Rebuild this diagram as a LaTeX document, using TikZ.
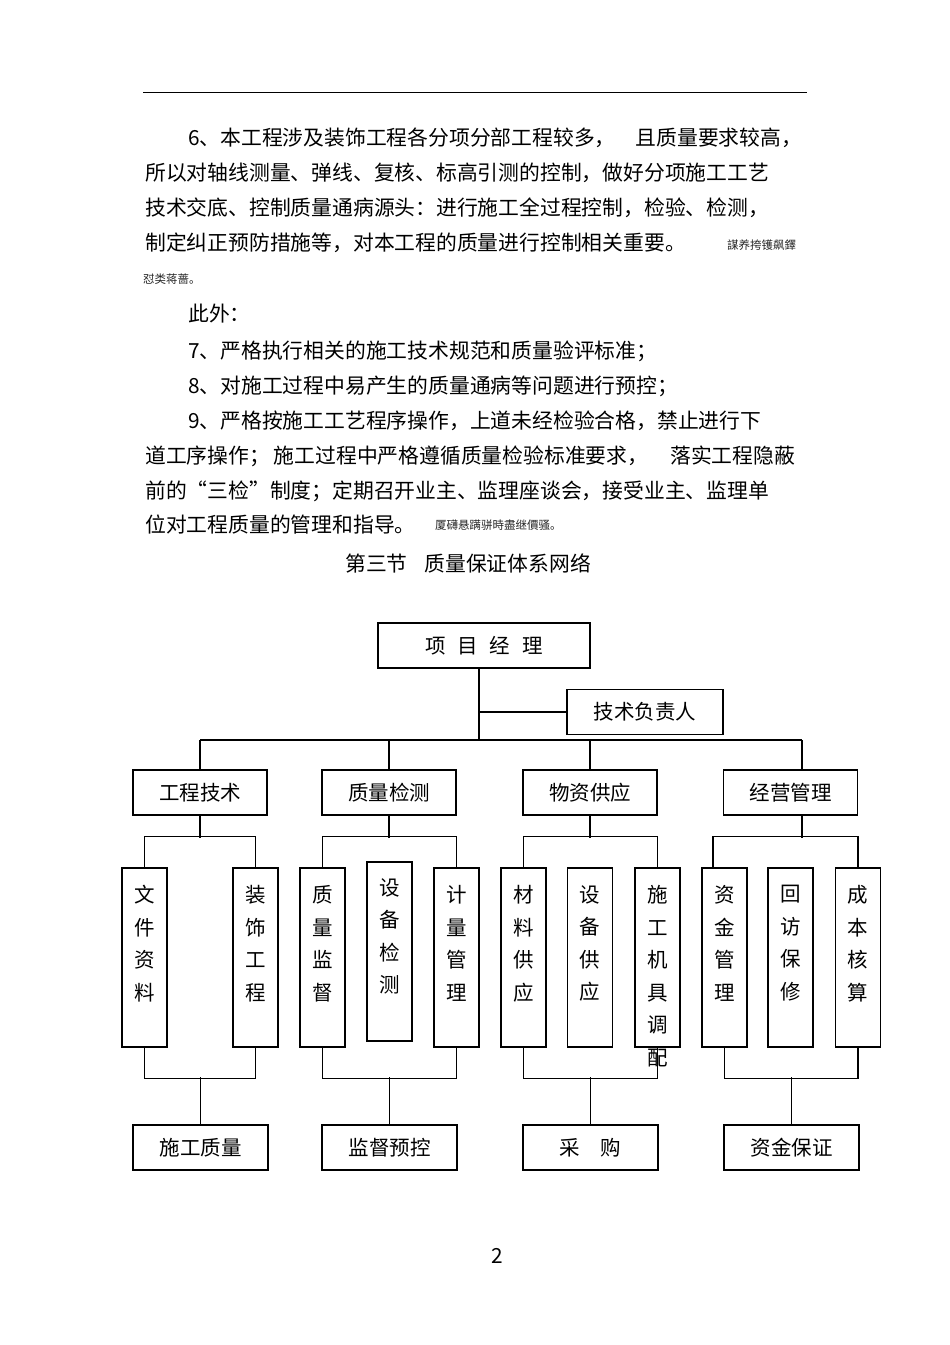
\documentclass[tikz,border=0pt]{standalone}
\usepackage{fontspec}
\setmainfont{Noto Sans CJK SC}
\usetikzlibrary{positioning}

\begin{document}
\begin{tikzpicture}[x=1pt, y=-1pt,
    body/.style={anchor=base west, inner sep=0pt, font=\fontsize{20.8}{25}\selectfont},
    tiny/.style={anchor=base west, inner sep=0pt, font=\fontsize{11.5}{14}\selectfont, black!85},
    hbox/.style={draw, line width=1.3pt, minimum height=45pt, inner sep=0pt, font=\fontsize{20.5}{25}\selectfont},
    colbox/.style={draw, line width=1.3pt, minimum width=45pt, minimum height=179pt, inner sep=0pt},
    coltext/.style={align=center, inner sep=0pt, font=\fontsize{20.5}{32.5}\selectfont},
    link/.style={line width=1.1pt}]

% page and header rule
\useasboundingbox[fill=white] (0,0) rectangle (950,1345);
\draw[line width=1pt] (143,92) -- (807,92);

% text above the chart
\node[body] (l1) at (188,145) {6、本工程涉及装饰工程各分项分部工程较多，\hspace{20pt}且质量要求较高，};
\node[body] (l2) at (145,180) {所以对轴线测量、弹线、复核、标高引测的控制，做好分项施工工艺};
\node[body] (l3) at (145,215) {技术交底、控制质量通病源头：进行施工全过程控制，检验、检测，};
\node[body] (l4) at (145,250) {制定纠正预防措施等，对本工程的质量进行控制相关重要。};
\node[tiny] (n1) at (727,249) {謀养挎镬飙鐸};
\node[tiny] (n2) at (143,283) {怼类蒋蔷。};
\node[body] (l5) at (188,321) {此外：};
\node[body] (l6) at (188,358) {7、严格执行相关的施工技术规范和质量验评标准；};
\node[body] (l7) at (188,393) {8、对施工过程中易产生的质量通病等问题进行预控；};
\node[body] (l8) at (188,428) {9、严格按施工工艺程序操作，上道未经检验合格，禁止进行下};
\node[body] (l9) at (145,463) {道工序操作；\hspace{4pt}施工过程中严格遵循质量检验标准要求，\hspace{22pt}落实工程隐蔽};
\node[body] (l10) at (145,498) {前的“三检”制度；定期召开业主、监理座谈会，接受业主、监理单};
\node[body] (l11) at (145,532) {位对工程质量的管理和指导。};
\node[tiny] (n3) at (435,529) {厦礴悬蹒骈時盡继價骚。};
\node[body] (title) at (345,571) {第三节\hspace{17pt}质量保证体系网络};
\node[body, anchor=base] (pageno) at (497,1263) {2};

% top of the chart
\node[hbox, minimum width=212pt] (xmjl) at (484,645.5) {项\hspace{12pt}目\hspace{12pt}经\hspace{12pt}理};
\node[hbox, minimum width=156pt] (jsfzr) at (645,712) {技术负责人};

% second row
\foreach \cx/\cn/\ct in {200/gcjs/工程技术, 389/zljc/质量检测, 590/wzgy/物资供应, 790.5/jygl/经营管理}
    \node[hbox, minimum width=134pt] (\cn) at (\cx,792.5) {\ct};

% third row, upright text
\node[colbox] (wjzl) at (144.5,957.5) {};
\node[colbox] (zsgc) at (255.5,957.5) {};
\node[colbox] (zljd) at (322.5,957.5) {};
\node[colbox] (sbjc) at (389.5,951.5) {};
\node[colbox] (jlgl) at (456.5,957.5) {};
\node[colbox] (clgy) at (523.5,957.5) {};
\node[colbox] (sbgy) at (590,957.5) {};
\node[colbox] (sgjj) at (657.5,957.5) {};
\node[colbox] (zjgl) at (724.5,957.5) {};
\node[colbox] (hfbx) at (790.5,957.5) {};
\node[colbox] (cbhs) at (858,957.5) {};

\node[coltext, below=18pt of wjzl.north] (wjzl-t) {文\\件\\资\\料};
\node[coltext, below=18pt of zsgc.north] (zsgc-t) {装\\饰\\工\\程};
\node[coltext, below=18pt of zljd.north] (zljd-t) {质\\量\\监\\督};
\node[coltext, below=17pt of sbjc.north] (sbjc-t) {设\\备\\检\\测};
\node[coltext, below=18pt of jlgl.north] (jlgl-t) {计\\量\\管\\理};
\node[coltext, below=18pt of clgy.north] (clgy-t) {材\\料\\供\\应};
\node[coltext, below=18pt of sbgy.north] (sbgy-t) {设\\备\\供\\应};
\node[coltext, below=18pt of sgjj.north] (sgjj-t) {施\\工\\机\\具\\调\\配};
\node[coltext, below=18pt of zjgl.north] (zjgl-t) {资\\金\\管\\理};
\node[coltext, below=18pt of hfbx.north] (hfbx-t) {回\\访\\保\\修};
\node[coltext, below=18pt of cbhs.north] (cbhs-t) {成\\本\\核\\算};

% bottom row
\foreach \cx/\cn/\ct in {200.5/sgzl/施工质量, 389.5/jdyk/监督预控, 590.5/cg/采\hspace{21pt}购, 791.5/zjbz/资金保证}
    \node[hbox, minimum width=135pt] (\cn) at (\cx,1147.5) {\ct};

% trunk and bus
\coordinate (trunk) at (479,740);
\coordinate (busR) at (802,740);
\draw[link] (xmjl.south -| trunk) -- (trunk);
\draw[link] (trunk |- jsfzr.west) -- (jsfzr.west);
\draw[link] (gcjs.north |- trunk) -- (busR);
\foreach \n in {gcjs,zljc,wzgy}
    \draw[link] (\n.north |- trunk) -- (\n.north);
\draw[link] (busR) -- (busR |- jygl.north);

% brackets under the second row
\draw[link] (gcjs.south) -- ++(0,22);
\draw[link] (wjzl.north) -- ++(0,-31) -| (zsgc.north);
\draw[link] (zljc.south) -- ++(0,22);
\draw[link] (zljd.north) -- ++(0,-31) -| (jlgl.north);
\draw[link] (wzgy.south) -- ++(0,22);
\draw[link] (clgy.north) -- ++(0,-31) -| (sgjj.north);
\draw[link] (busR |- jygl.south) -- ++(0,22);
\draw[link] ([xshift=-11.5pt]zjgl.north) -- ++(0,-31) -| (cbhs.north);

% brackets above the bottom row
\draw[link] (wjzl.south) -- ++(0,31) -| (zsgc.south);
\draw[link] (sgzl.north) -- ++(0,-47);
\draw[link] (zljd.south) -- ++(0,31) -| (jlgl.south);
\draw[link] (jdyk.north) -- ++(0,-47);
\draw[link] (clgy.south) -- ++(0,31) -| (sgjj.south);
\draw[link] (cg.north) -- ++(0,-47);
\draw[link] (zjgl.south) -- ++(0,31) -| (cbhs.south);
\draw[link] (zjbz.north) -- ++(0,-47);
\end{tikzpicture}
\end{document}
